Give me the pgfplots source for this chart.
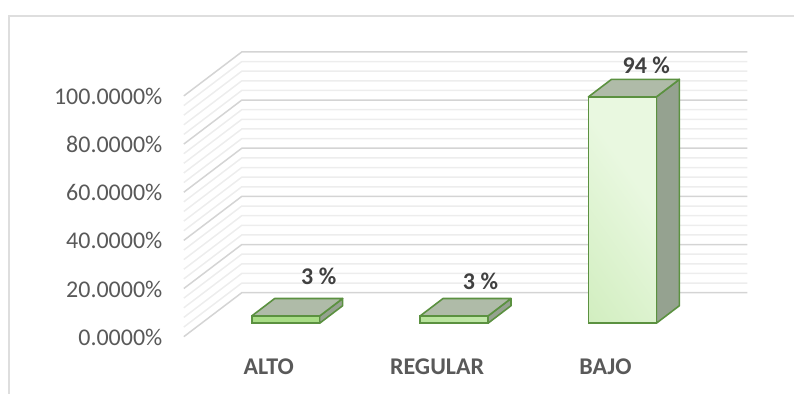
\documentclass[border=0pt]{standalone}
\usepackage{pgfplots}
\pgfplotsset{compat=1.18}
\usepackage{fontspec}
\setmainfont{Carlito}
\definecolor{axistext}{HTML}{595959}
\definecolor{labeltext}{HTML}{404040}
\definecolor{majorgrid}{HTML}{D4D4D4}
\definecolor{minorgrid}{HTML}{EDEDED}
\definecolor{framecol}{HTML}{DEDEDE}
\definecolor{barline}{HTML}{5B9140}
\definecolor{topface}{HTML}{AFBBA8}
\definecolor{sideface}{HTML}{95A290}
\definecolor{frontlow}{HTML}{A8DC86}
\definecolor{fronthigh}{HTML}{E9F8E0}
\newcommand{\chartfont}{\fontsize{24}{28}\selectfont}
\newcommand{\boldfont}{\fontsize{24}{28}\selectfont\bfseries}
\pgfplotsset{
  chartbox/.style={
    scale only axis, width=564pt, height=241pt, clip=false,
    axis line style={draw=none}, major tick length=0pt,
    tick label style={font=\chartfont},
  },
  topstyle/.style={draw=barline, line width=1.6pt, line join=round, fill=topface},
  sidestyle/.style={draw=barline, line width=1.6pt, line join=round, fill=sideface},
}
\begin{document}
\begin{tikzpicture}
% Walls: pixel-like x, percent on the front plane for y
\begin{axis}[name=walls, chartbox,
  xmin=184, xmax=748, ymin=0, ymax=100,
  xtick=\empty, ytick={0,20,40,60,80,100},
  yticklabel style={text=axistext, xshift=-18pt, yshift=-0.5pt},
  yticklabel={\pgfmathprintnumber[fixed, fixed zerofill, precision=4, assume math mode=true]{\tick}\%},
]
  % page extent and outer frame
  \path (axis cs:0,-23.65) rectangle (axis cs:795,139.83);
  \draw[framecol, line width=1.5pt] (axis cs:9,-23.65) -- (axis cs:9,133.2) -- (axis cs:795,133.2);
  % minor grid every 4 %
  \pgfplotsinvokeforeach{4,8,12,16,24,28,32,36,44,48,52,56,64,68,72,76,84,88,92,96}{
    \draw[minorgrid, line width=1.5pt] (axis cs:184,#1) -- ++(axis direction cs:58,18.26) -- ++(axis direction cs:506,0);
  }
  % major grid every 20 %
  \pgfplotsinvokeforeach{0,20,40,60,80,100}{
    \draw[majorgrid, line width=1.5pt] (axis cs:184,#1) -- ++(axis direction cs:58,18.26) -- ++(axis direction cs:506,0);
  }
\end{axis}
% Bars: categories at 0,1,2, percent values measured from the bar floor
\begin{axis}[chartbox, at={(walls.south west)}, anchor=south west,
  xmin=-0.6053, xmax=2.7418, ymin=-5.6, ymax=94.4,
  ytick=\empty, xtick={0,1,2}, xticklabels={ALTO,REGULAR,BAJO},
  xticklabel style={text=axistext, font=\boldfont, xshift=-17pt, yshift=-19pt},
]
  % right-hand faces
  \addplot[sidestyle] coordinates {(0.2018,0)(0.3383,7.26)(0.3383,10.26)(0.2018,3)} -- cycle;
  \addplot[sidestyle] coordinates {(1.2018,0)(1.3383,7.26)(1.3383,10.26)(1.2018,3)} -- cycle;
  \addplot[sidestyle] coordinates {(2.2018,0)(2.3383,7.26)(2.3383,101.26)(2.2018,94)} -- cycle;
  % top faces
  \addplot[topstyle] coordinates {(-0.2018,3)(0.2018,3)(0.3383,10.26)(-0.0653,10.26)} -- cycle;
  \addplot[topstyle] coordinates {(0.7982,3)(1.2018,3)(1.3383,10.26)(0.9347,10.26)} -- cycle;
  \addplot[topstyle] coordinates {(1.7982,94)(2.2018,94)(2.3383,101.26)(1.9347,101.26)} -- cycle;
  % front faces: shaded fill, then the outline on top
  \addplot[ybar, bar width=68pt, bar shift=0pt, draw=none,
    left color=frontlow, right color=fronthigh, shading angle=125]
    coordinates {(0,3)(1,3)(2,94)};
  \addplot[ybar, bar width=68pt, bar shift=0pt, draw=barline, fill=none, line width=1.6pt]
    coordinates {(0,3)(1,3)(2,94)};
  % value labels
  \node[font=\boldfont, text=labeltext] at (axis cs:0.196,19.5) {3 \%};
  \node[font=\boldfont, text=labeltext] at (axis cs:1.157,17.4) {3 \%};
  \node[font=\boldfont, text=labeltext] at (axis cs:2.142,107.3) {94 \%};
\end{axis}
\end{tikzpicture}
\end{document}
